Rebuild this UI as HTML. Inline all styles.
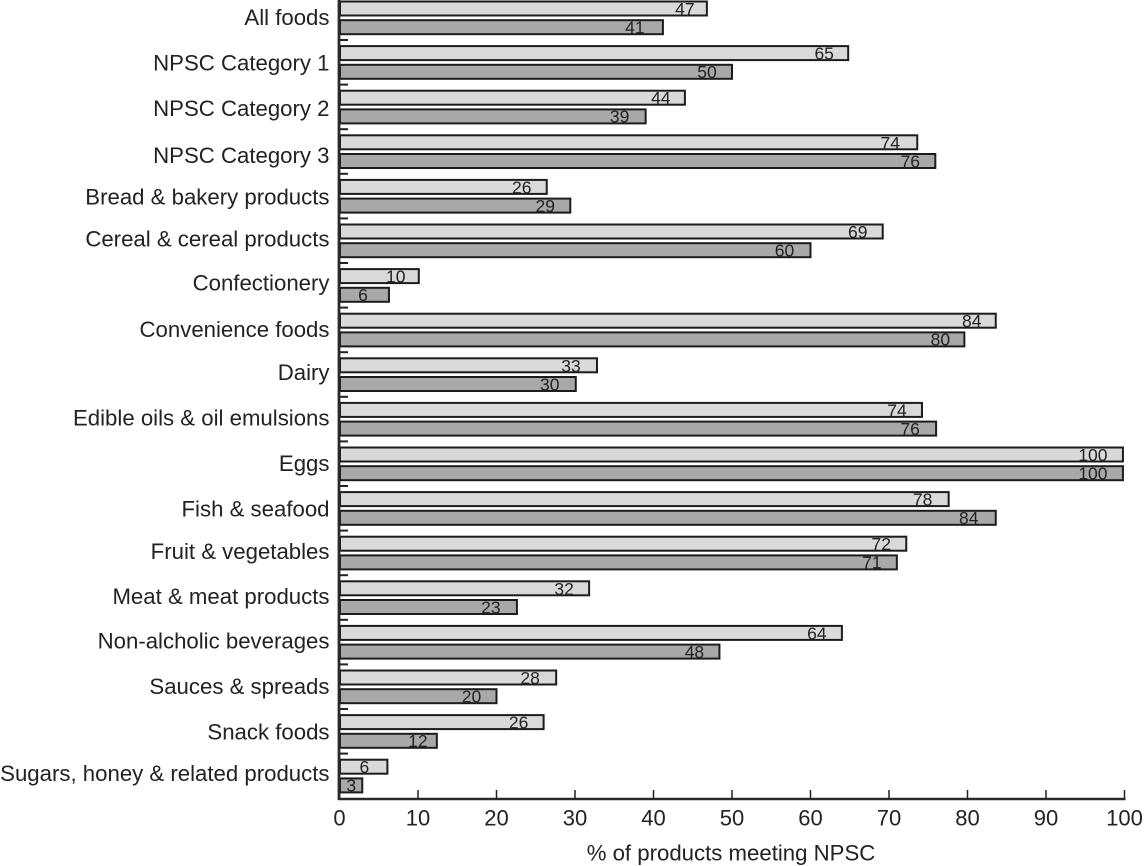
<!DOCTYPE html>
<html>
<head>
<meta charset="utf-8">
<style>
html,body{margin:0;padding:0;background:#fff;width:1145px;height:866px;overflow:hidden}
svg{display:block}
text{font-family:"Liberation Sans",sans-serif;fill:#222}
</style>
</head>
<body>
<svg id="chart" width="1145" height="866" viewBox="0 0 1145 866" xmlns="http://www.w3.org/2000/svg"></svg>
<script>
const categories = ["All foods","NPSC Category 1","NPSC Category 2","NPSC Category 3","Bread & bakery products","Cereal & cereal products","Confectionery","Convenience foods","Dairy","Edible oils & oil emulsions","Eggs","Fish & seafood","Fruit & vegetables","Meat & meat products","Non-alcholic beverages","Sauces & spreads","Snack foods","Sugars, honey & related products"];
const lightValues = [46.8,64.8,44,73.6,26.4,69.2,10.1,83.6,32.8,74.2,99.8,77.6,72.2,31.8,64,27.6,26,6.1];
const darkValues = [41.2,50,39,75.9,29.4,60,6.3,79.6,30.1,76,99.8,83.6,71,22.6,48.4,20,12.4,2.9];
const lightLabels = [47,65,44,74,26,69,10,84,33,74,100,78,72,32,64,28,26,6];
const darkLabels = [41,50,39,76,29,60,6,80,30,76,100,84,71,23,48,20,12,3];
const xTicks = [0,10,20,30,40,50,60,70,80,90,100];
const labelNudges = [0,1,2,4,1,-1.5,-2,0,-2,-1,0,1,-1,-1,-1,0,1,-2];
const lightGaps = [22,24,24,27,25,25,23,24,26,25,30,26,25,25,25,26,25,23];
const darkGaps = [28,25,26,25,25,26,26,24,26,26,30,27,25,26,25,25,19,11];

const NS = "http://www.w3.org/2000/svg";
const svg = document.getElementById("chart");
const x = v => 339.5 + 7.85 * v;
const bandTop = i => 1.5 + 44.6 * i;

function make(tag, attrs, text) {
  const el = document.createElementNS(NS, tag);
  for (const k in attrs) el.setAttribute(k, attrs[k]);
  if (text !== undefined) el.textContent = text;
  svg.appendChild(el);
  return el;
}

categories.forEach((name, i) => {
  const top = bandTop(i);
  const lab = make("text", {x: 329.5, y: top + 16 + labelNudges[i] + 7.5, "text-anchor": "end", "font-size": 22.2}, name);
  
  

  const lightBar = make("rect", {x: 340, y: top, width: x(lightValues[i]) - 340, height: 14, fill: "#d9d9d9", stroke: "#1c1c1c", "stroke-width": 2});
  
  

  const darkBar = make("rect", {x: 340, y: top + 18.7, width: x(darkValues[i]) - 340, height: 14, fill: "#a8a8aa", stroke: "#1c1c1c", "stroke-width": 2});
  
  

  const lightText = make("text", {x: x(lightValues[i]) - lightGaps[i], y: top + 13.5, "text-anchor": "middle", "font-size": 17.5}, lightLabels[i]);
  
  

  const darkText = make("text", {x: x(darkValues[i]) - darkGaps[i], y: top + 32, "text-anchor": "middle", "font-size": 17.5}, darkLabels[i]);
  
  

  if (i < categories.length - 1) {
    const tick = make("line", {x1: 339, x2: 348, y1: top + 38.5, y2: top + 38.5, stroke: "#222", "stroke-width": 2});
    
    
  }
});

const yAxis = make("line", {x1: 339, x2: 339, y1: 0, y2: 800, stroke: "#2a2a2a", "stroke-width": 2.8});



const xAxis = make("line", {x1: 338, x2: 1125.5, y1: 799, y2: 799, stroke: "#2a2a2a", "stroke-width": 2.6});



xTicks.forEach(t => {
  const tick = make("line", {x1: x(t), x2: x(t), y1: 790, y2: 798, stroke: "#222", "stroke-width": 1.5});
  
  
  const lab = make("text", {x: x(t), y: 825.5, "text-anchor": "middle", "font-size": 22}, t);
  
  
});

const title = make("text", {x: 731, y: 860.5, "text-anchor": "middle", "font-size": 22.2}, "% of products meeting NPSC");


</script>
</body>
</html>
